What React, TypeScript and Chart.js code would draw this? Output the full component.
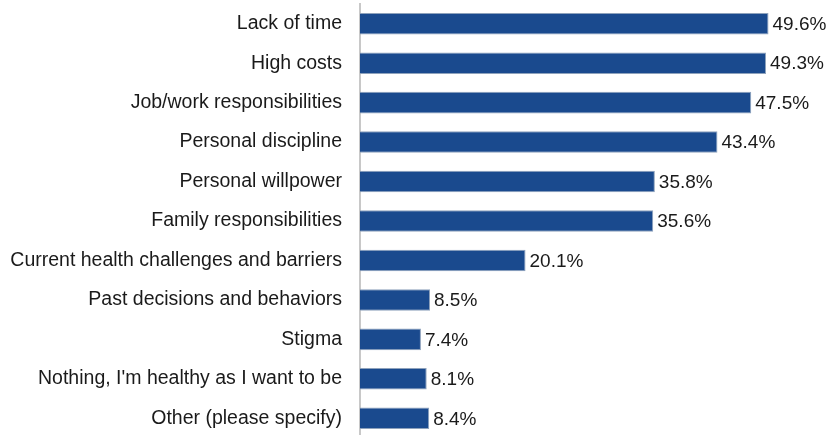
import React, { useEffect, useRef } from "react";
import { Chart, registerables } from "chart.js";

Chart.register(...registerables);

const categories = [
  "Lack of time",
  "High costs",
  "Job/work responsibilities",
  "Personal discipline",
  "Personal willpower",
  "Family responsibilities",
  "Current health challenges and barriers",
  "Past decisions and behaviors",
  "Stigma",
  "Nothing, I'm healthy as I want to be",
  "Other (please specify)",
];
const values = [49.6, 49.3, 47.5, 43.4, 35.8, 35.6, 20.1, 8.5, 7.4, 8.1, 8.4];

const FONT = "'Liberation Sans', Arial, Helvetica, sans-serif";

const valueLabels = {
  id: "valueLabels",
  afterDatasetsDraw(chart: any) {
    const ctx = chart.ctx;
    const meta = chart.getDatasetMeta(0);
    ctx.save();
    ctx.font = `19px ${FONT}`;
    ctx.fillStyle = "#1a1a1a";
    ctx.textAlign = "left";
    ctx.textBaseline = "middle";
    meta.data.forEach((bar: any, i: number) => {
      const v = chart.data.datasets[0].data[i];
      ctx.fillText(v.toFixed(1) + "%", bar.x + 4, bar.y + 1);
    });
    ctx.restore();
  },
};

export default function App() {
  const ref = useRef<HTMLCanvasElement | null>(null);
  useEffect(() => {
    if (!ref.current) return;
    const chart = new Chart(ref.current, {
      type: "bar",
      data: {
        labels: categories,
        datasets: [
          {
            data: values,
            backgroundColor: "#1a4a8e",
            borderColor: "#8ea2bc",
            borderWidth: 1,
            barPercentage: 0.78,
            categoryPercentage: 0.7,
          },
        ],
      },
      options: {
        indexAxis: "y",
        animation: false,
        responsive: false,
        maintainAspectRatio: false,
        layout: { padding: { left: 0, right: 17, top: 4, bottom: 0 } },
        plugins: {
          legend: { display: false },
          tooltip: { enabled: false },
        },
        scales: {
          x: {
            min: 0,
            max: 55,
            display: false,
            grid: { display: false },
          },
          y: {
            grid: { display: false, drawTicks: false },
            border: { display: true, color: "#c8c8c8", width: 2 },
            ticks: {
              color: "#1a1a1a",
              font: { size: 19.5, family: FONT },
              padding: 18,
              autoSkip: false,
            },
            afterFit: (s: any) => {
              s.width = 360;
              s.paddingTop = 0;
              s.paddingBottom = 0;
            },
          },
        },
      },
      plugins: [valueLabels],
    });
    return () => chart.destroy();
  }, []);
  return (
    <div style={{ position: "absolute", left: 0, top: 0, width: 830, height: 435, overflow: "hidden", background: "#fff" }}>
      <canvas ref={ref} width={830} height={438} style={{ display: "block" }} />
    </div>
  );
}
